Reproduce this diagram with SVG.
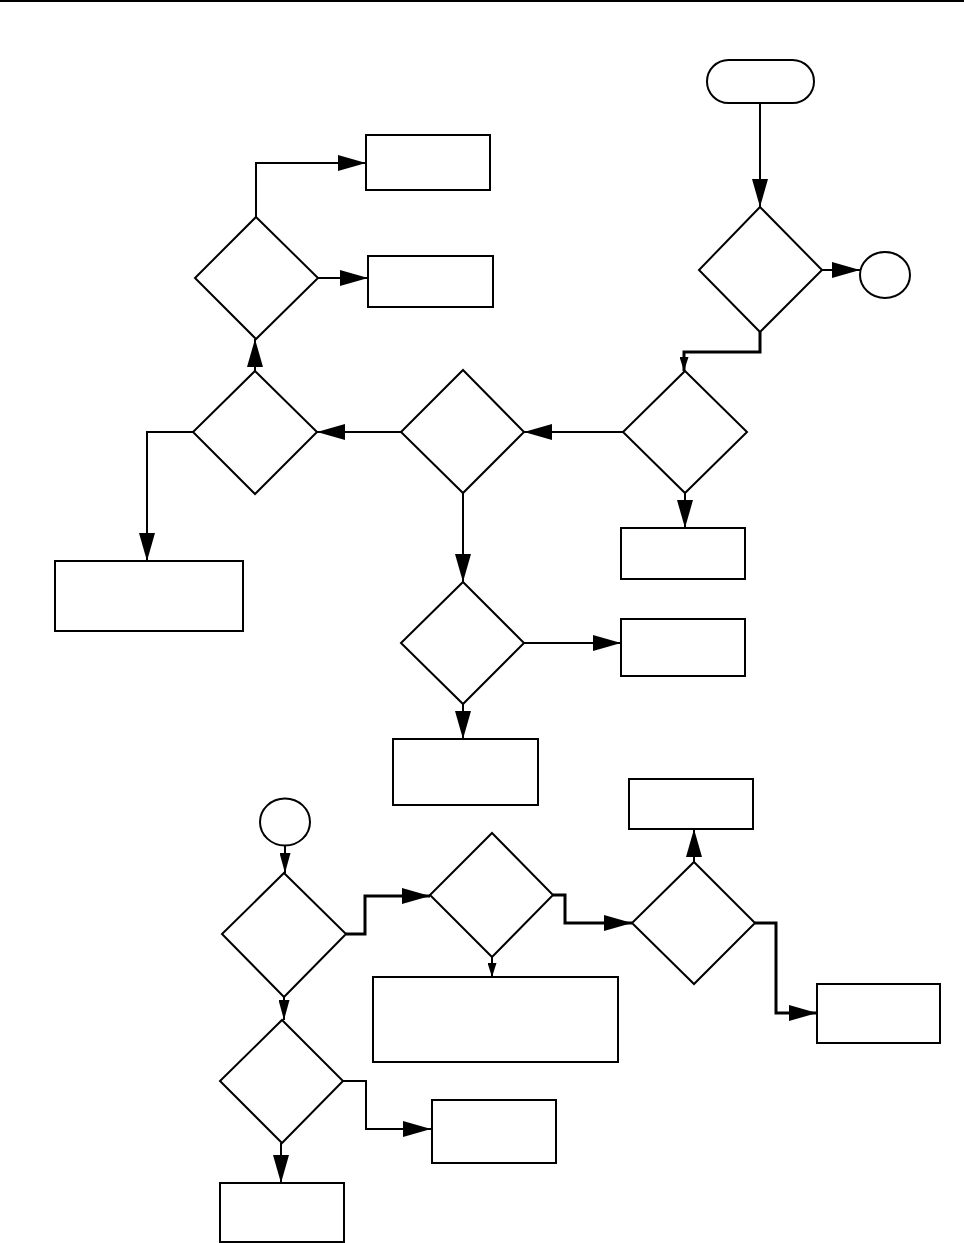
<svg xmlns="http://www.w3.org/2000/svg" width="964" height="1243" viewBox="0 0 964 1243">
<style>
.n{fill:#fff;stroke:#000;stroke-width:2}
.c{fill:none;stroke:#000;stroke-width:2}
.t{stroke-width:3}
</style>
<defs>
<marker id="ab" markerUnits="userSpaceOnUse" markerWidth="28" markerHeight="16" refX="28" refY="8" orient="auto" viewBox="0 0 28 16"><path d="M0,0 L28,8 L0,16 z" fill="#000"/></marker>
<marker id="am" markerUnits="userSpaceOnUse" markerWidth="20" markerHeight="11" refX="20" refY="5.5" orient="auto" viewBox="0 0 20 11"><path d="M0,0 L20,5.5 L0,11 z" fill="#000"/></marker>
<marker id="as" markerUnits="userSpaceOnUse" markerWidth="14" markerHeight="9" refX="14" refY="4.5" orient="auto" viewBox="0 0 14 9"><path d="M0,0 L14,4.5 L0,9 z" fill="#000"/></marker>
</defs>
<rect width="964" height="1243" fill="#fff"/>
<rect x="0" y="0" width="964" height="2" fill="#000"/>
<g id="connectors">
<path class="c" d="M760,103 V207" marker-end="url(#ab)"/>
<path class="c" d="M822,270 H860" marker-end="url(#ab)"/>
<path class="c t" d="M760,332 V352 H684 V371" marker-end="url(#as)"/>
<path class="c" d="M685,493 V528" marker-end="url(#ab)"/>
<path class="c" d="M623,432 H524" marker-end="url(#ab)"/>
<path class="c" d="M401,432 H317" marker-end="url(#ab)"/>
<path class="c" d="M193,432 H147 V561" marker-end="url(#ab)"/>
<path class="c" d="M255,371 V339" marker-end="url(#ab)"/>
<path class="c" d="M256,217 V163 H366" marker-end="url(#ab)"/>
<path class="c" d="M318,278 H368" marker-end="url(#ab)"/>
<path class="c" d="M463,493 V582" marker-end="url(#ab)"/>
<path class="c" d="M524,643 H621" marker-end="url(#ab)"/>
<path class="c" d="M463,704 V739" marker-end="url(#ab)"/>
<path class="c" d="M694,862 V829" marker-end="url(#ab)"/>
<path class="c t" d="M755,923 H776 V1013 H817" marker-end="url(#ab)"/>
<path class="c" d="M285,846 V873" marker-end="url(#am)"/>
<path class="c t" d="M346,934 H365 V896 H430" marker-end="url(#ab)"/>
<path class="c t" d="M553,895 H565 V923 H632" marker-end="url(#ab)"/>
<path class="c" d="M492,957 V977" marker-end="url(#as)"/>
<path class="c" d="M284,997 V1020" marker-end="url(#am)"/>
<path class="c" d="M343,1081 H366 V1129 H431" marker-end="url(#ab)"/>
<path class="c" d="M281,1143 V1183" marker-end="url(#ab)"/>
</g>
<g id="start"><rect class="n" x="707" y="60" width="107" height="43" rx="21.5"/></g>
<g id="d1"><polygon class="n" points="760,207 822,270 760,332 699,270"/></g>
<g id="conn-a"><ellipse class="n" cx="885" cy="275" rx="25" ry="23"/></g>
<g id="d2"><polygon class="n" points="685,371 747,432 685,493 623,432"/></g>
<g id="box-d2"><rect class="n" x="621" y="528" width="124" height="51"/></g>
<g id="d3"><polygon class="n" points="463,370 524,432 463,493 401,432"/></g>
<g id="d4"><polygon class="n" points="255,371 317,432 255,494 193,432"/></g>
<g id="box-left"><rect class="n" x="55" y="561" width="188" height="70"/></g>
<g id="d5"><polygon class="n" points="256,217 318,278 256,339 195,278"/></g>
<g id="box-top1"><rect class="n" x="366" y="135" width="124" height="55"/></g>
<g id="box-top2"><rect class="n" x="368" y="256" width="125" height="51"/></g>
<g id="d6"><polygon class="n" points="463,582 524,643 463,704 401,643"/></g>
<g id="box-d6r"><rect class="n" x="621" y="619" width="124" height="57"/></g>
<g id="box-d6b"><rect class="n" x="393" y="739" width="145" height="66"/></g>
<g id="conn-b"><ellipse class="n" cx="285" cy="822" rx="25" ry="23.5"/></g>
<g id="d7"><polygon class="n" points="284,873 346,934 284,997 222,934"/></g>
<g id="d9"><polygon class="n" points="492,833 553,895 492,957 430,895"/></g>
<g id="box-d9"><rect class="n" x="373" y="977" width="245" height="85"/></g>
<g id="d8"><polygon class="n" points="694,862 755,923 694,984 632,923"/></g>
<g id="box-d8t"><rect class="n" x="629" y="779" width="124" height="50"/></g>
<g id="box-d8r"><rect class="n" x="817" y="984" width="123" height="59"/></g>
<g id="d10"><polygon class="n" points="282,1020 343,1081 282,1143 220,1081"/></g>
<g id="box-d10r"><rect class="n" x="432" y="1100" width="124" height="63"/></g>
<g id="box-d10b"><rect class="n" x="220" y="1183" width="124" height="59"/></g>
</svg>
